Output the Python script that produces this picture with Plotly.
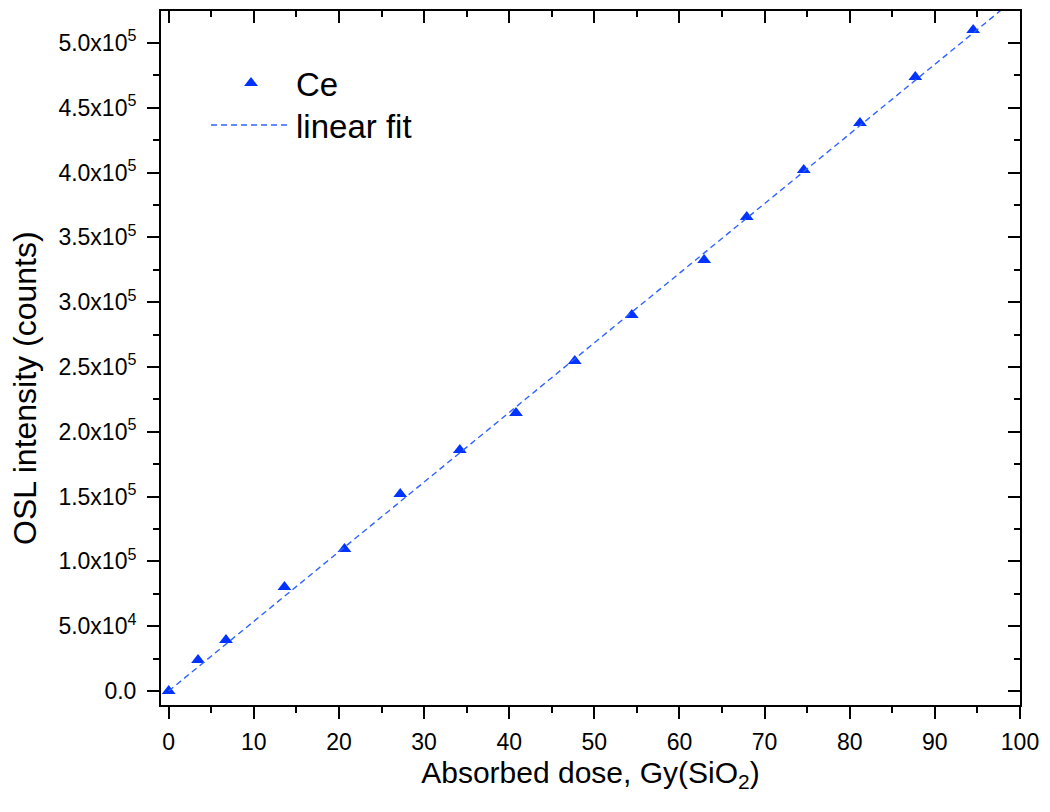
import plotly.graph_objects as go

dose = [0, 3.45, 6.73, 13.6, 20.65, 27.2, 34.2, 40.8, 47.7, 54.4, 62.9, 67.9, 74.6, 81.2, 87.7, 94.5]
osl = [0, 23900, 39400, 80200, 109600, 152000, 186000, 214500, 254600, 290100,
       332600, 365700, 402000, 438300, 473800, 510000]
fit_x = [0, 100]
fit_y = [0, 537300]

x_tickvals = [0, 10, 20, 30, 40, 50, 60, 70, 80, 90, 100]
y_tickvals = [0, 50000, 100000, 150000, 200000, 250000, 300000, 350000, 400000, 450000, 500000]
y_ticktext = ["0.0", "5.0x10<sup>4</sup>", "1.0x10<sup>5</sup>", "1.5x10<sup>5</sup>",
              "2.0x10<sup>5</sup>", "2.5x10<sup>5</sup>", "3.0x10<sup>5</sup>",
              "3.5x10<sup>5</sup>", "4.0x10<sup>5</sup>", "4.5x10<sup>5</sup>",
              "5.0x10<sup>5</sup>"]

XR = [-0.9, 100]
YR = [-10800, 524700]
FONT = "Liberation Sans, Arial, sans-serif"

fig = go.Figure()
fig.add_trace(go.Scatter(x=dose, y=osl, mode="markers", name="Ce", legend="legend",
                         marker=dict(symbol="triangle-up", size=12, color="#0033ff")))
fig.add_trace(go.Scatter(x=fit_x, y=fit_y, mode="lines", name="linear fit", legend="legend2",
                         line=dict(color="#3063ff", width=1.4, dash="6px,4px")))
# helper trace for mirrored (inside-tick) axes
fig.add_trace(go.Scatter(x=dose, y=osl, mode="markers", xaxis="x2", yaxis="y2",
                         marker=dict(opacity=0), showlegend=False, hoverinfo="skip"))

common = dict(showgrid=False, zeroline=False, showline=True, linecolor="black",
              linewidth=2, tickcolor="black", tickwidth=2)

leg = dict(xanchor="left", yanchor="middle", bgcolor="rgba(0,0,0,0)",
           font=dict(size=33, family=FONT, color="black"), itemwidth=80)

fig.update_layout(
    width=1050, height=812,
    paper_bgcolor="white", plot_bgcolor="white",
    margin=dict(l=161, r=26, t=11, b=107),
    font=dict(family=FONT, color="black"),
    xaxis=dict(range=XR, tickvals=x_tickvals, ticks="outside", ticklen=12,
               minor=dict(dtick=5, tick0=0, ticks="outside", ticklen=6, tickwidth=2, tickcolor="black"),
               tickfont=dict(size=23), ticklabelstandoff=3,
               title=dict(text="Absorbed dose, Gy(SiO<sub>2</sub>)", font=dict(size=30), standoff=8),
               **common),
    yaxis=dict(range=YR, tickvals=y_tickvals, ticktext=y_ticktext, ticks="outside", ticklen=12,
               minor=dict(dtick=25000, tick0=0, ticks="outside", ticklen=6, tickwidth=2, tickcolor="black"),
               tickfont=dict(size=23), ticklabelstandoff=6,
               **common),
    xaxis2=dict(range=XR, overlaying="x", side="top", showticklabels=False,
                tickvals=x_tickvals, ticks="inside", ticklen=12,
                minor=dict(dtick=5, tick0=0, ticks="inside", ticklen=6, tickwidth=2, tickcolor="black"),
                **common),
    yaxis2=dict(range=YR, overlaying="y", side="right", showticklabels=False,
                tickvals=y_tickvals, ticks="inside", ticklen=12,
                minor=dict(dtick=25000, tick0=0, ticks="inside", ticklen=6, tickwidth=2, tickcolor="black"),
                **common),
    legend=dict(x=0.0524, y=1 - (83 - 11) / 694, **leg),
    legend2=dict(x=0.0524, y=1 - (125 - 11) / 694, **leg),
    showlegend=True,
    annotations=[dict(text="OSL intensity (counts)", textangle=-90, xref="paper", yref="paper",
                      x=0, y=0.5, xanchor="center", yanchor="middle", xshift=-136, yshift=-30,
                      showarrow=False, font=dict(size=32, family=FONT, color="black"))],
)

fig.write_html("out.html", config={"displayModeBar": False},
               post_script="document.body.style.margin='0';")
